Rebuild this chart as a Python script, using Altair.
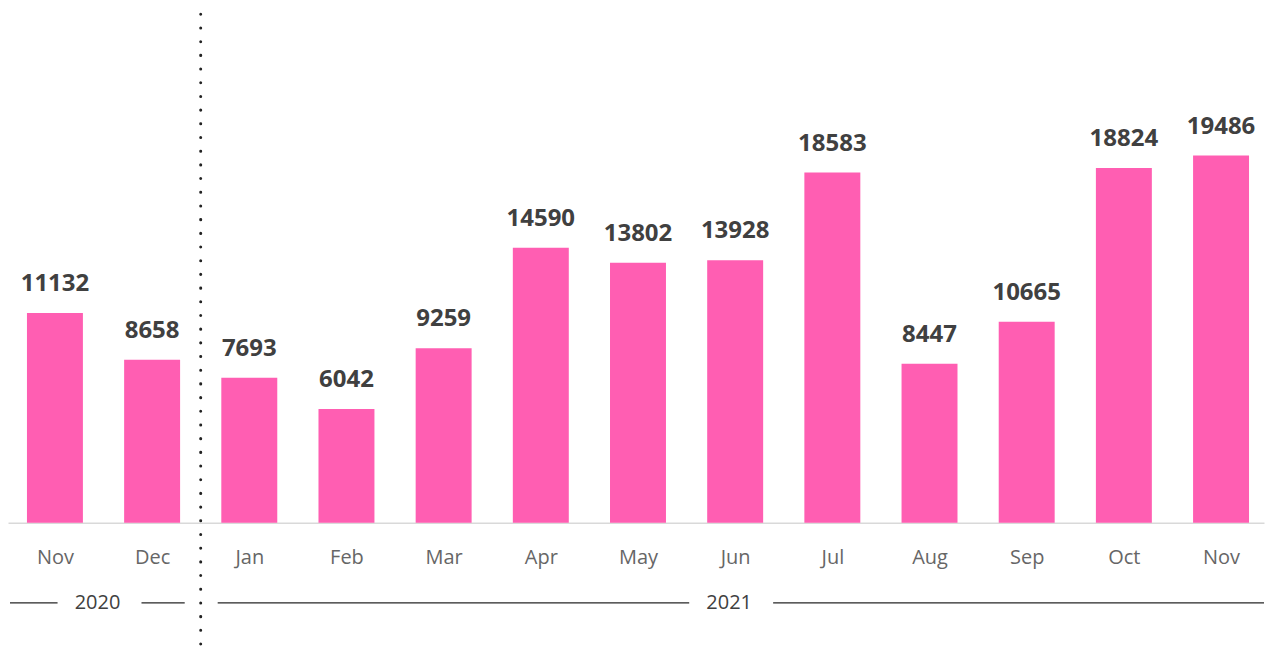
import altair as alt
import pandas as pd

months = ["Nov", "Dec", "Jan", "Feb", "Mar", "Apr", "May", "Jun", "Jul", "Aug", "Sep", "Oct", "Nov"]
years = ["2020", "2020", "2021", "2021", "2021", "2021", "2021", "2021", "2021", "2021", "2021", "2021", "2021"]
values = [11132, 8658, 7693, 6042, 9259, 14590, 13802, 13928, 18583, 8447, 10665, 18824, 19486]

df = pd.DataFrame({"idx": list(range(len(months))), "month": months, "year": years, "value": values})

W, H = 1257, 515
YDOM = 27300
LAST = len(months) - 1
XMIN, XMAX = -0.483, LAST + 0.442

month_js = "[" + ",".join(f"'{m}'" for m in months) + "]"

xscale = alt.Scale(domain=[XMIN, XMAX], nice=False, zero=False, padding=0)
yscale = alt.Scale(domain=[0, YDOM], nice=False)

base = alt.Chart(df)

bars = base.mark_bar(color="#FF5EB2", size=56).encode(
    x=alt.X("idx:Q", scale=xscale,
            axis=alt.Axis(values=list(range(len(months))), labelExpr=f"{month_js}[datum.value]",
                          title=None, grid=False, ticks=False, domainColor="#d9d9d9", domainWidth=1.5,
                          labelColor="#666666", labelFontSize=20, labelFont="Open Sans",
                          labelPadding=25)),
    y=alt.Y("value:Q", scale=yscale, axis=None),
)

labels = base.mark_text(font="Open Sans", fontWeight="bold", fontSize=24, color="#404040",
                        baseline="alphabetic", dy=-22).encode(
    x=alt.X("idx:Q", scale=xscale), y=alt.Y("value:Q", scale=yscale), text="value:Q"
)

groups = base.transform_aggregate(
    lo="min(idx)", hi="max(idx)", groupby=["year"]
).transform_calculate(
    start=f"max(datum.lo - 0.5, {XMIN})", end=f"min(datum.hi + 0.5, {XMAX})",
    mid="(datum.lo + datum.hi) / 2",
)

YL = H + 80
RULE = dict(color="#262626", strokeWidth=1.3)

year_text = groups.mark_text(font="Open Sans", fontSize=20, color="#404040", baseline="middle", dx=-6).encode(
    x=alt.X("mid:Q", scale=xscale), y=alt.value(YL), text="year:N"
)
# left segments: first group starts at the chart edge, others just after the separator
rule_left_first = groups.transform_filter("datum.lo == 0").mark_rule(xOffset=2, x2Offset=-46, **RULE).encode(
    x=alt.X("start:Q", scale=xscale), x2="mid:Q", y=alt.value(YL)
)
rule_left_other = groups.transform_filter("datum.lo > 0").mark_rule(xOffset=17, x2Offset=-46, **RULE).encode(
    x=alt.X("start:Q", scale=xscale), x2="mid:Q", y=alt.value(YL)
)
# right segments: last group runs to the chart edge, others stop before the separator
rule_right_other = groups.transform_filter(f"datum.hi < {LAST}").mark_rule(xOffset=38, x2Offset=-16, **RULE).encode(
    x=alt.X("mid:Q", scale=xscale), x2="end:Q", y=alt.value(YL)
)
rule_right_last = groups.transform_filter(f"datum.hi == {LAST}").mark_rule(xOffset=38, **RULE).encode(
    x=alt.X("mid:Q", scale=xscale), x2="end:Q", y=alt.value(YL)
)

sep = base.transform_filter("datum.year == '2021'").transform_aggregate(
    lo="min(idx)"
).transform_calculate(pos="datum.lo - 0.5").mark_rule(
    color="#222222", strokeWidth=3, strokeDash=[0.1, 13.6], strokeCap="round"
).encode(x=alt.X("pos:Q", scale=xscale), y=alt.value(6), y2=alt.value(645))

chart = alt.layer(bars, labels, rule_left_first, rule_left_other, rule_right_other, rule_right_last,
                  year_text, sep).properties(
    width=W, height=H, padding=0
).configure_view(stroke=None)

chart.save("out.html", embed_options={"renderer": "svg", "actions": False})
